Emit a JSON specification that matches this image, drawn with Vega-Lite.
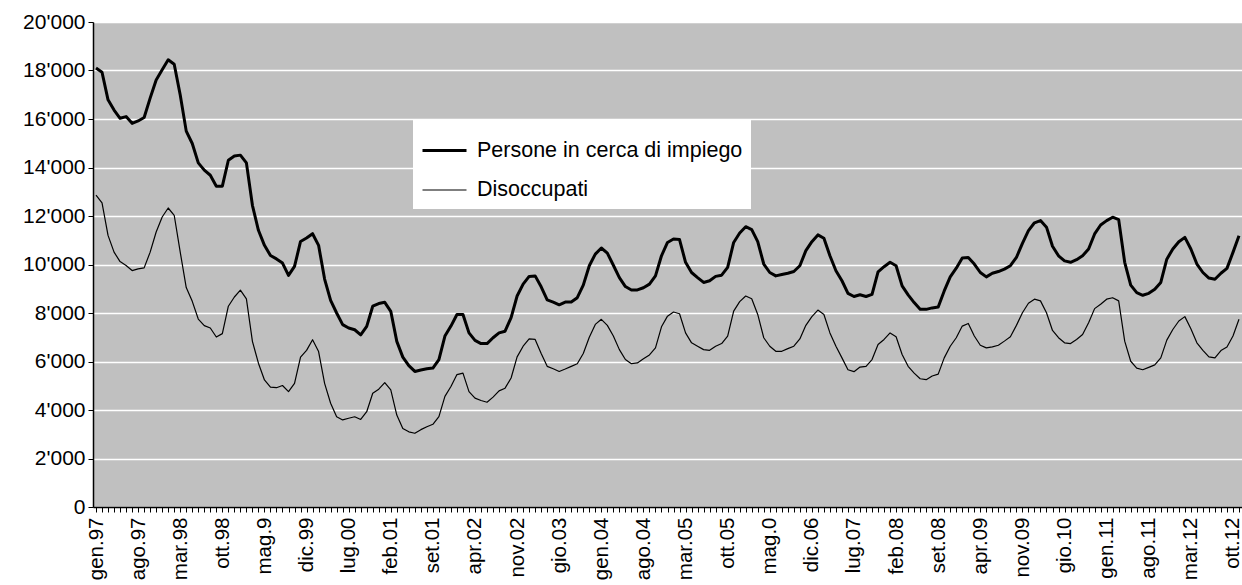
{
  "$schema": "https://vega.github.io/schema/vega-lite/v6.json",
  "width": 1149,
  "height": 485,
  "autosize": {"type": "none"},
  "padding": {"left": 93, "top": 22, "right": 0, "bottom": 78},
  "background": "white",
  "config": {
    "view": {"fill": "#c0c0c0", "stroke": null},
    "font": "Liberation Sans"
  },
  "data": {
    "values": [
      {"m": "gen.97", "persone": 18100, "disoccupati": 12860},
      {"m": "feb.97", "persone": 17930, "disoccupati": 12540},
      {"m": "mar.97", "persone": 16790, "disoccupati": 11200},
      {"m": "apr.97", "persone": 16370, "disoccupati": 10510},
      {"m": "mag.97", "persone": 16030, "disoccupati": 10120},
      {"m": "gio.97", "persone": 16100, "disoccupati": 9960},
      {"m": "lug.97", "persone": 15820, "disoccupati": 9750},
      {"m": "ago.97", "persone": 15920, "disoccupati": 9820},
      {"m": "set.97", "persone": 16060, "disoccupati": 9860},
      {"m": "ott.97", "persone": 16860, "disoccupati": 10510},
      {"m": "nov.97", "persone": 17610, "disoccupati": 11340},
      {"m": "dic.97", "persone": 18030, "disoccupati": 11960},
      {"m": "gen.98", "persone": 18440, "disoccupati": 12330},
      {"m": "feb.98", "persone": 18260, "disoccupati": 12030},
      {"m": "mar.98", "persone": 16990, "disoccupati": 10510},
      {"m": "apr.98", "persone": 15500, "disoccupati": 9050},
      {"m": "mag.98", "persone": 14990, "disoccupati": 8480},
      {"m": "gio.98", "persone": 14190, "disoccupati": 7750},
      {"m": "lug.98", "persone": 13890, "disoccupati": 7480},
      {"m": "ago.98", "persone": 13680, "disoccupati": 7380},
      {"m": "set.98", "persone": 13230, "disoccupati": 7010},
      {"m": "ott.98", "persone": 13230, "disoccupati": 7150},
      {"m": "nov.98", "persone": 14300, "disoccupati": 8280},
      {"m": "dic.98", "persone": 14470, "disoccupati": 8660},
      {"m": "gen.99", "persone": 14510, "disoccupati": 8940},
      {"m": "feb.99", "persone": 14190, "disoccupati": 8580},
      {"m": "mar.99", "persone": 12440, "disoccupati": 6830},
      {"m": "apr.99", "persone": 11410, "disoccupati": 5930},
      {"m": "mag.99", "persone": 10790, "disoccupati": 5240},
      {"m": "gio.99", "persone": 10370, "disoccupati": 4940},
      {"m": "lug.99", "persone": 10230, "disoccupati": 4920},
      {"m": "ago.99", "persone": 10060, "disoccupati": 5010},
      {"m": "set.99", "persone": 9550, "disoccupati": 4760},
      {"m": "ott.99", "persone": 9920, "disoccupati": 5100},
      {"m": "nov.99", "persone": 10950, "disoccupati": 6180},
      {"m": "dic.99", "persone": 11090, "disoccupati": 6460},
      {"m": "gen.00", "persone": 11270, "disoccupati": 6900},
      {"m": "feb.00", "persone": 10790, "disoccupati": 6410},
      {"m": "mar.00", "persone": 9400, "disoccupati": 5100},
      {"m": "apr.00", "persone": 8520, "disoccupati": 4280},
      {"m": "mag.00", "persone": 8000, "disoccupati": 3720},
      {"m": "gio.00", "persone": 7520, "disoccupati": 3590},
      {"m": "lug.00", "persone": 7380, "disoccupati": 3660},
      {"m": "ago.00", "persone": 7310, "disoccupati": 3720},
      {"m": "set.00", "persone": 7100, "disoccupati": 3610},
      {"m": "ott.00", "persone": 7450, "disoccupati": 3930},
      {"m": "nov.00", "persone": 8280, "disoccupati": 4690},
      {"m": "dic.00", "persone": 8390, "disoccupati": 4860},
      {"m": "gen.01", "persone": 8440, "disoccupati": 5130},
      {"m": "feb.01", "persone": 8070, "disoccupati": 4830},
      {"m": "mar.01", "persone": 6830, "disoccupati": 3790},
      {"m": "apr.01", "persone": 6180, "disoccupati": 3240},
      {"m": "mag.01", "persone": 5830, "disoccupati": 3100},
      {"m": "gio.01", "persone": 5590, "disoccupati": 3040},
      {"m": "lug.01", "persone": 5650, "disoccupati": 3190},
      {"m": "ago.01", "persone": 5700, "disoccupati": 3310},
      {"m": "set.01", "persone": 5730, "disoccupati": 3410},
      {"m": "ott.01", "persone": 6080, "disoccupati": 3730},
      {"m": "nov.01", "persone": 7050, "disoccupati": 4560},
      {"m": "dic.01", "persone": 7460, "disoccupati": 4970},
      {"m": "gen.02", "persone": 7940, "disoccupati": 5460},
      {"m": "feb.02", "persone": 7940, "disoccupati": 5520},
      {"m": "mar.02", "persone": 7180, "disoccupati": 4760},
      {"m": "apr.02", "persone": 6870, "disoccupati": 4490},
      {"m": "mag.02", "persone": 6740, "disoccupati": 4390},
      {"m": "gio.02", "persone": 6740, "disoccupati": 4320},
      {"m": "lug.02", "persone": 6980, "disoccupati": 4530},
      {"m": "ago.02", "persone": 7180, "disoccupati": 4790},
      {"m": "set.02", "persone": 7250, "disoccupati": 4900},
      {"m": "ott.02", "persone": 7810, "disoccupati": 5320},
      {"m": "nov.02", "persone": 8700, "disoccupati": 6190},
      {"m": "dic.02", "persone": 9190, "disoccupati": 6630},
      {"m": "gen.03", "persone": 9510, "disoccupati": 6930},
      {"m": "feb.03", "persone": 9530, "disoccupati": 6910},
      {"m": "mar.03", "persone": 9080, "disoccupati": 6330},
      {"m": "apr.03", "persone": 8540, "disoccupati": 5800},
      {"m": "mag.03", "persone": 8450, "disoccupati": 5700},
      {"m": "gio.03", "persone": 8340, "disoccupati": 5590},
      {"m": "lug.03", "persone": 8450, "disoccupati": 5690},
      {"m": "ago.03", "persone": 8450, "disoccupati": 5800},
      {"m": "set.03", "persone": 8630, "disoccupati": 5910},
      {"m": "ott.03", "persone": 9150, "disoccupati": 6330},
      {"m": "nov.03", "persone": 9950, "disoccupati": 7000},
      {"m": "dic.03", "persone": 10430, "disoccupati": 7530},
      {"m": "gen.04", "persone": 10680, "disoccupati": 7740},
      {"m": "feb.04", "persone": 10470, "disoccupati": 7490},
      {"m": "mar.04", "persone": 9970, "disoccupati": 7050},
      {"m": "apr.04", "persone": 9460, "disoccupati": 6490},
      {"m": "mag.04", "persone": 9090, "disoccupati": 6080},
      {"m": "gio.04", "persone": 8950, "disoccupati": 5910},
      {"m": "lug.04", "persone": 8950, "disoccupati": 5940},
      {"m": "ago.04", "persone": 9040, "disoccupati": 6110},
      {"m": "set.04", "persone": 9190, "disoccupati": 6270},
      {"m": "ott.04", "persone": 9530, "disoccupati": 6560},
      {"m": "nov.04", "persone": 10360, "disoccupati": 7430},
      {"m": "dic.04", "persone": 10910, "disoccupati": 7870},
      {"m": "gen.05", "persone": 11050, "disoccupati": 8040},
      {"m": "feb.05", "persone": 11030, "disoccupati": 7970},
      {"m": "mar.05", "persone": 10090, "disoccupati": 7180},
      {"m": "apr.05", "persone": 9670, "disoccupati": 6770},
      {"m": "mag.05", "persone": 9460, "disoccupati": 6630},
      {"m": "gio.05", "persone": 9260, "disoccupati": 6490},
      {"m": "lug.05", "persone": 9330, "disoccupati": 6460},
      {"m": "ago.05", "persone": 9510, "disoccupati": 6630},
      {"m": "set.05", "persone": 9560, "disoccupati": 6740},
      {"m": "ott.05", "persone": 9880, "disoccupati": 7050},
      {"m": "nov.05", "persone": 10910, "disoccupati": 8080},
      {"m": "dic.05", "persone": 11300, "disoccupati": 8470},
      {"m": "gen.06", "persone": 11560, "disoccupati": 8700},
      {"m": "feb.06", "persone": 11440, "disoccupati": 8590},
      {"m": "mar.06", "persone": 10940, "disoccupati": 7940},
      {"m": "apr.06", "persone": 10020, "disoccupati": 6980},
      {"m": "mag.06", "persone": 9670, "disoccupati": 6630},
      {"m": "gio.06", "persone": 9530, "disoccupati": 6420},
      {"m": "lug.06", "persone": 9590, "disoccupati": 6420},
      {"m": "ago.06", "persone": 9640, "disoccupati": 6530},
      {"m": "set.06", "persone": 9710, "disoccupati": 6630},
      {"m": "ott.06", "persone": 9950, "disoccupati": 6930},
      {"m": "nov.06", "persone": 10570, "disoccupati": 7490},
      {"m": "dic.06", "persone": 10940, "disoccupati": 7850},
      {"m": "gen.07", "persone": 11220, "disoccupati": 8120},
      {"m": "feb.07", "persone": 11080, "disoccupati": 7940},
      {"m": "mar.07", "persone": 10360, "disoccupati": 7180},
      {"m": "apr.07", "persone": 9740, "disoccupati": 6630},
      {"m": "mag.07", "persone": 9330, "disoccupati": 6150},
      {"m": "gio.07", "persone": 8810, "disoccupati": 5660},
      {"m": "lug.07", "persone": 8680, "disoccupati": 5580},
      {"m": "ago.07", "persone": 8750, "disoccupati": 5770},
      {"m": "set.07", "persone": 8680, "disoccupati": 5800},
      {"m": "ott.07", "persone": 8770, "disoccupati": 6080},
      {"m": "nov.07", "persone": 9700, "disoccupati": 6700},
      {"m": "dic.07", "persone": 9910, "disoccupati": 6910},
      {"m": "gen.08", "persone": 10090, "disoccupati": 7180},
      {"m": "feb.08", "persone": 9950, "disoccupati": 7020},
      {"m": "mar.08", "persone": 9120, "disoccupati": 6290},
      {"m": "apr.08", "persone": 8750, "disoccupati": 5800},
      {"m": "mag.08", "persone": 8430, "disoccupati": 5520},
      {"m": "gio.08", "persone": 8150, "disoccupati": 5290},
      {"m": "lug.08", "persone": 8150, "disoccupati": 5250},
      {"m": "ago.08", "persone": 8210, "disoccupati": 5400},
      {"m": "set.08", "persone": 8250, "disoccupati": 5480},
      {"m": "ott.08", "persone": 8910, "disoccupati": 6150},
      {"m": "nov.08", "persone": 9490, "disoccupati": 6630},
      {"m": "dic.08", "persone": 9850, "disoccupati": 6980},
      {"m": "gen.09", "persone": 10270, "disoccupati": 7460},
      {"m": "feb.09", "persone": 10290, "disoccupati": 7570},
      {"m": "mar.09", "persone": 10020, "disoccupati": 7050},
      {"m": "apr.09", "persone": 9670, "disoccupati": 6670},
      {"m": "mag.09", "persone": 9490, "disoccupati": 6560},
      {"m": "gio.09", "persone": 9640, "disoccupati": 6600},
      {"m": "lug.09", "persone": 9710, "disoccupati": 6670},
      {"m": "ago.09", "persone": 9810, "disoccupati": 6840},
      {"m": "set.09", "persone": 9950, "disoccupati": 7020},
      {"m": "ott.09", "persone": 10290, "disoccupati": 7490},
      {"m": "nov.09", "persone": 10870, "disoccupati": 8010},
      {"m": "dic.09", "persone": 11400, "disoccupati": 8400},
      {"m": "gen.10", "persone": 11720, "disoccupati": 8570},
      {"m": "feb.10", "persone": 11810, "disoccupati": 8500},
      {"m": "mar.10", "persone": 11540, "disoccupati": 8010},
      {"m": "apr.10", "persone": 10750, "disoccupati": 7280},
      {"m": "mag.10", "persone": 10360, "disoccupati": 6980},
      {"m": "gio.10", "persone": 10150, "disoccupati": 6770},
      {"m": "lug.10", "persone": 10090, "disoccupati": 6740},
      {"m": "ago.10", "persone": 10200, "disoccupati": 6910},
      {"m": "set.10", "persone": 10360, "disoccupati": 7110},
      {"m": "ott.10", "persone": 10640, "disoccupati": 7600},
      {"m": "nov.10", "persone": 11260, "disoccupati": 8180},
      {"m": "dic.10", "persone": 11630, "disoccupati": 8360},
      {"m": "gen.11", "persone": 11810, "disoccupati": 8570},
      {"m": "feb.11", "persone": 11950, "disoccupati": 8630},
      {"m": "mar.11", "persone": 11850, "disoccupati": 8500},
      {"m": "apr.11", "persone": 10090, "disoccupati": 6840},
      {"m": "mag.11", "persone": 9150, "disoccupati": 6010},
      {"m": "gio.11", "persone": 8840, "disoccupati": 5730},
      {"m": "lug.11", "persone": 8730, "disoccupati": 5660},
      {"m": "ago.11", "persone": 8810, "disoccupati": 5760},
      {"m": "set.11", "persone": 8980, "disoccupati": 5860},
      {"m": "ott.11", "persone": 9260, "disoccupati": 6150},
      {"m": "nov.11", "persone": 10220, "disoccupati": 6880},
      {"m": "dic.11", "persone": 10640, "disoccupati": 7320},
      {"m": "gen.12", "persone": 10940, "disoccupati": 7670},
      {"m": "feb.12", "persone": 11120, "disoccupati": 7850},
      {"m": "mar.12", "persone": 10640, "disoccupati": 7350},
      {"m": "apr.12", "persone": 10020, "disoccupati": 6770},
      {"m": "mag.12", "persone": 9670, "disoccupati": 6460},
      {"m": "gio.12", "persone": 9440, "disoccupati": 6190},
      {"m": "lug.12", "persone": 9390, "disoccupati": 6150},
      {"m": "ago.12", "persone": 9640, "disoccupati": 6450},
      {"m": "set.12", "persone": 9840, "disoccupati": 6600},
      {"m": "ott.12", "persone": 10500, "disoccupati": 7050},
      {"m": "nov.12", "persone": 11190, "disoccupati": 7740}
    ]
  },
  "transform": [{"fold": ["persone", "disoccupati"], "as": ["serie", "valore"]}],
  "mark": {"type": "line", "strokeJoin": "round"},
  "encoding": {
    "x": {
      "field": "m",
      "type": "ordinal",
      "sort": null,
      "scale": {"type": "point", "padding": 0.5},
      "axis": {
        "title": null,
        "labelAngle": -90,
        "labelFontSize": 20.5,
        "labelColor": "black",
        "labelPadding": 5,
        "labelOverlap": false,
        "labelBound": false,
        "tickSize": 5,
        "tickColor": "black",
        "domainColor": "black",
        "domainWidth": 1.5,
        "grid": false,
        "labelExpr": "indexof(['gen.97','ago.97','mar.98','ott.98','mag.99','dic.99','lug.00','feb.01','set.01','apr.02','nov.02','gio.03','gen.04','ago.04','mar.05','ott.05','mag.06','dic.06','lug.07','feb.08','set.08','apr.09','nov.09','gio.10','gen.11','ago.11','mar.12','ott.12'], datum.value) < 0 ? '' : datum.value == 'mag.99' ? 'mag.9' : datum.value == 'mag.06' ? 'mag.0' : datum.value"
      }
    },
    "y": {
      "field": "valore",
      "type": "quantitative",
      "scale": {"domain": [0, 20000], "nice": false},
      "axis": {
        "title": null,
        "values": [0, 2000, 4000, 6000, 8000, 10000, 12000, 14000, 16000, 18000, 20000],
        "labelFontSize": 21,
        "labelColor": "black",
        "labelPadding": 3,
        "tickSize": 5,
        "tickColor": "black",
        "domainColor": "black",
        "domainWidth": 1.5,
        "grid": true,
        "gridColor": "white",
        "gridWidth": 1.5,
        "labelExpr": "replace(format(datum.value, ','), ',', \"'\")"
      }
    },
    "color": {
      "field": "serie",
      "type": "nominal",
      "scale": {"domain": ["persone", "disoccupati"], "range": ["black", "black"]},
      "legend": {
        "orient": "none",
        "legendX": 320,
        "legendY": 97,
        "title": null,
        "fillColor": "white",
        "padding": 8,
        "labelFontSize": 21.5,
        "labelColor": "black",
        "labelLimit": 500,
        "symbolType": "stroke",
        "symbolSize": 1936,
        "labelOffset": 9,
        "rowPadding": 6,
        "labelExpr": "datum.value == 'persone' ? 'Persone in cerca di impiego' : 'Disoccupati'"
      }
    },
    "strokeWidth": {
      "field": "serie",
      "type": "nominal",
      "scale": {"domain": ["persone", "disoccupati"], "range": [3, 1.2]},
      "legend": {
        "orient": "none",
        "legendX": 320,
        "legendY": 97,
        "title": null,
        "fillColor": "white",
        "padding": 8,
        "labelFontSize": 21.5,
        "labelColor": "black",
        "labelLimit": 500,
        "symbolType": "stroke",
        "symbolSize": 1936,
        "labelOffset": 9,
        "rowPadding": 6,
        "labelExpr": "datum.value == 'persone' ? 'Persone in cerca di impiego' : 'Disoccupati'"
      }
    }
  }
}
